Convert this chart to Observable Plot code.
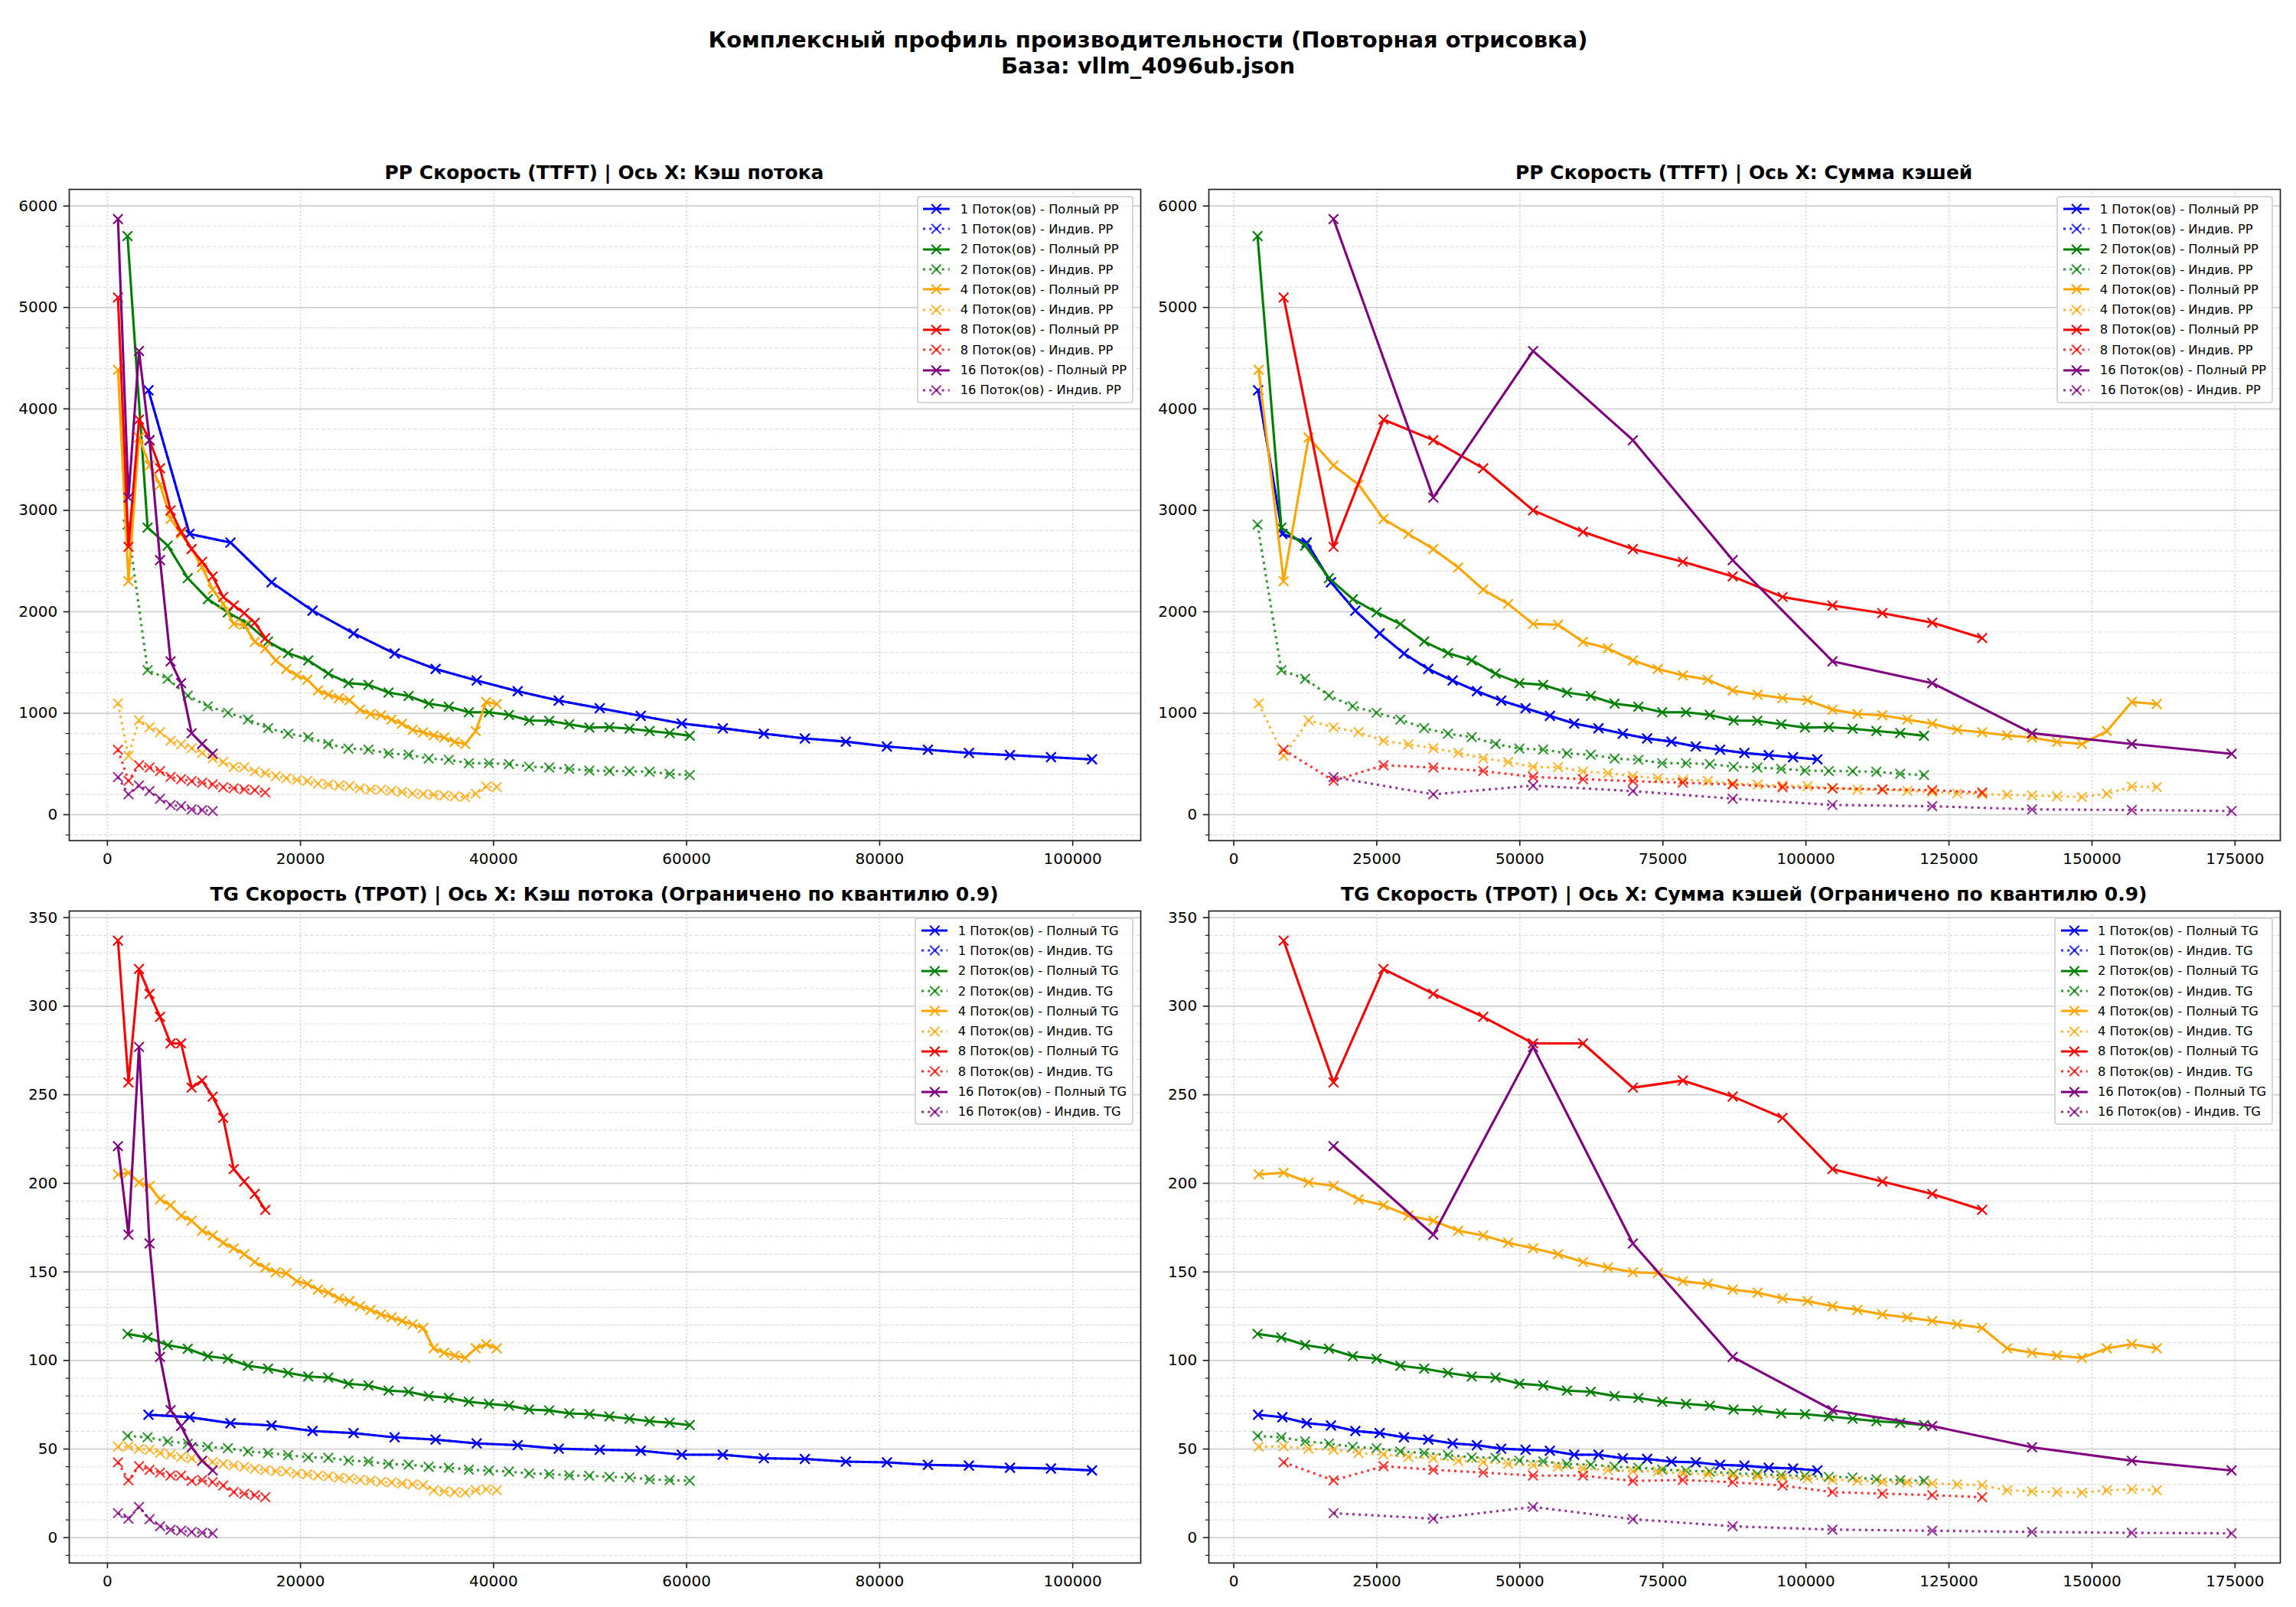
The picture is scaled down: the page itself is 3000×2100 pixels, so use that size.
<!DOCTYPE html>
<html><head><meta charset="utf-8">
<script src="https://cdn.jsdelivr.net/npm/d3@7"></script>
<script src="https://cdn.jsdelivr.net/npm/@observablehq/plot@0.6"></script>
<style>
body{margin:0;background:#fff;}
#page{position:relative;width:3000px;height:2100px;background:#fff;font-family:"DejaVu Sans",sans-serif;overflow:hidden;color:#000}
.suptitle{position:absolute;left:0;width:3000px;text-align:center;font-weight:bold;font-size:29px;line-height:1;white-space:nowrap}
.ptitle{position:absolute;text-align:center;font-weight:bold;font-size:25px;line-height:1;white-space:nowrap}
.panel{position:absolute}
.legend{position:absolute;background:rgba(255,255,255,0.8);border:2px solid rgba(204,204,204,0.8);border-radius:4px;padding:2.5px 6.5px;box-sizing:border-box}
.legend .row{display:flex;align-items:center;height:26.3px;font-size:16.3px;white-space:nowrap}
.legend svg{flex:none;margin-right:13.4px}
</style></head><body><div id="page"></div>
<script>
// ---------------- DATA ----------------
const threads = [1, 2, 4, 8, 16];
const colors = ["blue", "green", "orange", "red", "purple"];

// Кэш потока (per-thread cache, tokens)
const cache1 = [4250, 8500, 12750, 17000, 21250, 25500, 29750, 34000, 38250, 42500, 46750, 51000, 55250, 59500, 63750, 68000, 72250, 76500, 80750, 85000, 89250, 93500, 97750, 102000];
const cache2 = [2080, 4160, 6240, 8320, 10400, 12480, 14560, 16640, 18720, 20800, 22880, 24960, 27040, 29120, 31200, 33280, 35360, 37440, 39520, 41600, 43680, 45760, 47840, 49920, 52000, 54080, 56160, 58240, 60320];
const cache4 = [1090, 2180, 3270, 4360, 5450, 6540, 7630, 8720, 9810, 10900, 11990, 13080, 14170, 15260, 16350, 17440, 18530, 19620, 20710, 21800, 22890, 23980, 25070, 26160, 27250, 28340, 29430, 30520, 31610, 32700, 33790, 34880, 35970, 37060, 38150, 39240, 40330];
const cache8 = [1090, 2180, 3270, 4360, 5450, 6540, 7630, 8720, 9810, 10900, 11990, 13080, 14170, 15260, 16350];
const cache16 = [1090, 2180, 3270, 4360, 5450, 6540, 7630, 8720, 9810, 10900];

// PP speed (TTFT): full and individual
const pp1 = [4183, 2767, 2683, 2290, 2011, 1787, 1588, 1436, 1322, 1217, 1124, 1050, 974, 899, 852, 799, 751, 720, 672, 640, 608, 587, 566, 545];
const pp1i = [4183, 2767, 2683, 2290, 2011, 1787, 1588, 1436, 1322, 1217, 1124, 1050, 974, 899, 852, 799, 751, 720, 672, 640, 608, 587, 566, 545];
const pp2 = [5703, 2830, 2653, 2332, 2125, 1994, 1880, 1707, 1593, 1521, 1390, 1297, 1280, 1204, 1170, 1094, 1065, 1010, 1010, 984, 929, 925, 891, 858, 862, 847, 825, 804, 778];
const pp2i = [2860, 1424, 1339, 1174, 1069, 1005, 938, 853, 798, 765, 697, 651, 642, 604, 591, 553, 541, 507, 507, 499, 473, 465, 452, 435, 431, 428, 423, 402, 391];
const pp4 = [4385, 2302, 3718, 3443, 3253, 2915, 2767, 2619, 2438, 2218, 2078, 1880, 1872, 1703, 1639, 1521, 1436, 1373, 1331, 1225, 1183, 1149, 1128, 1035, 993, 980, 938, 896, 836, 811, 782, 760, 718, 697, 824, 1111, 1090];
const pp4i = [1096, 579, 930, 861, 813, 729, 692, 655, 610, 555, 520, 470, 468, 426, 410, 380, 359, 343, 333, 306, 296, 287, 282, 259, 248, 245, 235, 224, 209, 203, 196, 190, 180, 174, 206, 278, 273];
const pp8 = [5099, 2640, 3895, 3692, 3414, 3000, 2788, 2619, 2493, 2349, 2146, 2062, 1986, 1893, 1741];
const pp8i = [640, 334, 487, 465, 430, 372, 350, 330, 315, 298, 270, 260, 250, 242, 219];
const pp16 = [5872, 3126, 4571, 3692, 2509, 1512, 1297, 803, 697, 600];
const pp16i = [370, 200, 287, 232, 158, 96, 83, 52, 46, 36];

// TG speed (TPOT), capped at 0.9 quantile: full and individual
const tg1 = [69.4, 68.0, 64.6, 63.3, 60.2, 59.0, 56.6, 55.3, 53.2, 52.2, 50.2, 49.6, 49.1, 46.8, 46.8, 44.8, 44.4, 42.9, 42.5, 41.1, 40.6, 39.5, 39.0, 37.9];
const tg1i = [69.4, 68.0, 64.6, 63.3, 60.2, 59.0, 56.6, 55.3, 53.2, 52.2, 50.2, 49.6, 49.1, 46.8, 46.8, 44.8, 44.4, 42.9, 42.5, 41.1, 40.6, 39.5, 39.0, 37.9];
const tg2 = [115, 113, 108.7, 106.6, 102.4, 101, 97, 95.4, 93, 91, 90.3, 86.9, 85.9, 83, 82.3, 79.9, 78.9, 76.7, 75.5, 74.5, 72.3, 71.8, 70.1, 69.7, 68.4, 67.1, 65.7, 64.8, 63.5];
const tg2i = [57.4, 56.6, 54.4, 53.1, 51.2, 50.5, 48.6, 47.8, 46.6, 45.3, 45.1, 43.5, 43, 41.5, 41.2, 40, 39.5, 38.4, 37.8, 37.3, 36.2, 35.9, 35.1, 34.9, 34.3, 34.0, 32.9, 32.4, 32.1];
const tg4 = [205, 206, 200.5, 198.5, 191, 187.6, 181.8, 178.9, 173.3, 170.6, 166.5, 163.3, 160, 155.6, 152.4, 149.8, 149.3, 144.7, 143.2, 140, 138.3, 135, 133.5, 130.6, 128.6, 126, 124.3, 122.3, 120.4, 118.4, 106.8, 104.4, 102.7, 101.5, 106.8, 109.2, 106.8];
const tg4i = [51.3, 51.5, 50.1, 49.6, 47.8, 46.9, 45.5, 44.7, 43.3, 42.7, 41.6, 40.8, 40, 38.9, 38.1, 37.5, 37.3, 36.2, 35.8, 35, 34.6, 33.8, 33.4, 32.7, 32.2, 31.5, 31.1, 30.6, 30.1, 29.6, 26.7, 26.1, 25.7, 25.4, 26.7, 27.3, 26.7];
const tg8 = [337, 257, 321, 307, 294, 279, 279, 254, 258, 249, 237, 208, 201, 194, 185];
const tg8i = [42.5, 32.3, 40.3, 38.3, 36.7, 35.0, 35.0, 32.0, 32.5, 31.3, 29.4, 25.7, 24.8, 24.0, 22.8];
const tg16 = [221, 171, 277, 166, 102, 72, 63, 51, 43.4, 37.9];
const tg16i = [13.8, 10.7, 17.3, 10.4, 6.4, 4.5, 3.9, 3.2, 2.7, 2.4];

// tick labels
const xTicksThread = [0, 20000, 40000, 60000, 80000, 100000];
const xTicksSum = [0, 25000, 50000, 75000, 100000, 125000, 150000, 175000];
const yTicksPP = [0, 1000, 2000, 3000, 4000, 5000, 6000];
const yTicksTG = [0, 50, 100, 150, 200, 250, 300, 350];

// titles and labels
const supTitle1 = "Комплексный профиль производительности (Повторная отрисовка)";
const supTitle2 = "База: vllm_4096ub.json";
const titleTL = "PP Скорость (TTFT) | Ось X: Кэш потока";
const titleTR = "PP Скорость (TTFT) | Ось X: Сумма кэшей";
const titleBL = "TG Скорость (TPOT) | Ось X: Кэш потока (Ограничено по квантилю 0.9)";
const titleBR = "TG Скорость (TPOT) | Ось X: Сумма кэшей (Ограничено по квантилю 0.9)";
const labelFull = "Поток(ов) - Полный";
const labelIndiv = "Поток(ов) - Индив.";

// ---------------- BUILD ----------------
const caches = [cache1, cache2, cache4, cache8, cache16];
const ppFull = [pp1, pp2, pp4, pp8, pp16];
const ppIndiv = [pp1i, pp2i, pp4i, pp8i, pp16i];
const tgFull = [tg1, tg2, tg4, tg8, tg16];
const tgIndiv = [tg1i, tg2i, tg4i, tg8i, tg16i];

function rows(i, ys, useSum) {
  const n = threads[i];
  return caches[i].map((c, k) => ({x: useSum ? c * n : c, y: ys[k]}));
}

const page = document.getElementById("page");

function addDiv(cls, text, style) {
  const d = document.createElement("div");
  d.className = cls;
  d.textContent = text;
  Object.assign(d.style, style);
  page.appendChild(d);
  return d;
}

// matplotlib-like "x" marker
const xMarker = {draw(ctx) { const h = 6.25; ctx.moveTo(-h, -h); ctx.lineTo(h, h); ctx.moveTo(-h, h); ctx.lineTo(h, -h); }};

function pad(ext) { const r = ext[1] - ext[0]; return [ext[0] - 0.05 * r, ext[1] + 0.05 * r]; }

function minorTicks(domain, step) {
  const out = [];
  const s = Math.ceil(domain[0] / step), e = Math.floor(domain[1] / step);
  for (let k = s; k <= e; k++) out.push(k * step);
  return out;
}

function panel(ax, useSum, full, indiv, xTicks, yTicks, minorStep, title, kind) {
  const series = [];
  threads.forEach((n, i) => {
    series.push({i, type: "full", data: rows(i, full[i], useSum)});
    series.push({i, type: "indiv", data: rows(i, indiv[i], useSum)});
  });
  const all = series.flatMap(s => s.data);
  const xDom = pad(d3.extent(all, d => d.x));
  const yDom = pad(d3.extent(all, d => d.y));
  const yMinor = minorTicks(yDom, minorStep).filter(v => !yTicks.includes(v));
  const ML = 90, MR = 20, MT = 20, MB = 50;
  const marks = [
    Plot.gridY(yMinor, {stroke: "#b0b0b0", strokeOpacity: 0.4, strokeWidth: 1.2, strokeDasharray: "5,2.5"}),
    Plot.gridY(yTicks, {stroke: "#b0b0b0", strokeOpacity: 0.6, strokeWidth: 1.7}),
    Plot.gridX(xTicks, {stroke: "#b0b0b0", strokeOpacity: 0.7, strokeWidth: 1.5, strokeDasharray: "1.6,3.2"}),
    Plot.axisY({ticks: yMinor, tickSize: 4.2, strokeWidth: 1.25, stroke: "#222", tickFormat: () => "", label: null}),
    Plot.axisY({ticks: yTicks, tickSize: 7.3, tickPadding: 8, strokeWidth: 1.67, stroke: "#222", fontSize: 20, fill: "#000", tickFormat: d => String(d), label: null}),
    Plot.axisX({ticks: xTicks, tickSize: 7.3, tickPadding: 9, strokeWidth: 1.67, stroke: "#222", fontSize: 20, fill: "#000", tickFormat: d => String(d), label: null})
  ];
  for (const s of series) {
    const c = colors[s.i];
    const op = s.type === "full" ? 1 : 0.8;
    marks.push(Plot.line(s.data, {x: "x", y: "y", stroke: c, strokeOpacity: op, strokeWidth: 3.1,
      strokeDasharray: s.type === "full" ? null : "3.1,5.1", strokeLinecap: s.type === "full" ? "square" : "butt", strokeLinejoin: "round"}));
    marks.push(Plot.dot(s.data, {x: "x", y: "y", symbol: xMarker, fill: "none", stroke: c, strokeOpacity: op, strokeWidth: 2.08}));
  }
  marks.push(Plot.frame({stroke: "#222", strokeWidth: 1.7}));
  const svg = Plot.plot({
    width: ML + ax.w + MR, height: MT + ax.h + MB,
    marginLeft: ML, marginRight: MR, marginTop: MT, marginBottom: MB,
    x: {domain: xDom, label: null}, y: {domain: yDom, label: null},
    style: {fontFamily: "DejaVu Sans", fontSize: "20px", color: "#000", background: "transparent", overflow: "visible"},
    marks
  });
  const wrap = document.createElement("div");
  wrap.className = "panel";
  wrap.style.left = (ax.left - ML) + "px";
  wrap.style.top = (ax.top - MT) + "px";
  wrap.appendChild(svg);
  page.appendChild(wrap);

  // subplot title (baseline 12.5px above the axes)
  addDiv("ptitle", title, {left: ax.left + "px", width: ax.w + "px", top: (ax.top - 12.5 - 0.846 * 25) + "px"});

  // legend
  const lg = document.createElement("div");
  lg.className = "legend";
  lg.style.right = (3000 - (ax.left + ax.w - 9)) + "px";
  lg.style.top = (ax.top + 8.5) + "px";
  for (const s of series) {
    const n = threads[s.i], c = colors[s.i];
    const row = document.createElement("div");
    row.className = "row";
    const dotted = s.type === "indiv";
    const op = dotted ? 0.8 : 1;
    row.innerHTML =
      `<svg width="34.8" height="20" viewBox="0 0 34.8 20"><g stroke="${c}" stroke-opacity="${op}" fill="none">` +
      `<line x1="0" y1="10" x2="34.8" y2="10" stroke-width="3.1" ${dotted ? 'stroke-dasharray="3.1,5.1"' : ''}/>` +
      `<path d="M11.15,3.75L23.65,16.25M11.15,16.25L23.65,3.75" stroke-width="2.08"/></g></svg>`;
    const sp = document.createElement("span");
    sp.textContent = `${n} ${dotted ? labelIndiv : labelFull} ${kind}`;
    row.appendChild(sp);
    lg.appendChild(row);
  }
  page.appendChild(lg);
}

addDiv("suptitle", supTitle1, {top: (63 - 0.846 * 29) + "px"});
addDiv("suptitle", supTitle2, {top: (97 - 0.846 * 29) + "px"});

const AX = {
  tl: {left: 89.5, top: 247, w: 1400, h: 851},
  tr: {left: 1578.7, top: 247, w: 1400, h: 851},
  bl: {left: 89.5, top: 1190, w: 1400, h: 852},
  br: {left: 1578.7, top: 1190, w: 1400, h: 852}
};

panel(AX.tl, false, ppFull, ppIndiv, xTicksThread, yTicksPP, 200, titleTL, "PP");
panel(AX.tr, true, ppFull, ppIndiv, xTicksSum, yTicksPP, 200, titleTR, "PP");
panel(AX.bl, false, tgFull, tgIndiv, xTicksThread, yTicksTG, 10, titleBL, "TG");
panel(AX.br, true, tgFull, tgIndiv, xTicksSum, yTicksTG, 10, titleBR, "TG");
</script></body></html>
